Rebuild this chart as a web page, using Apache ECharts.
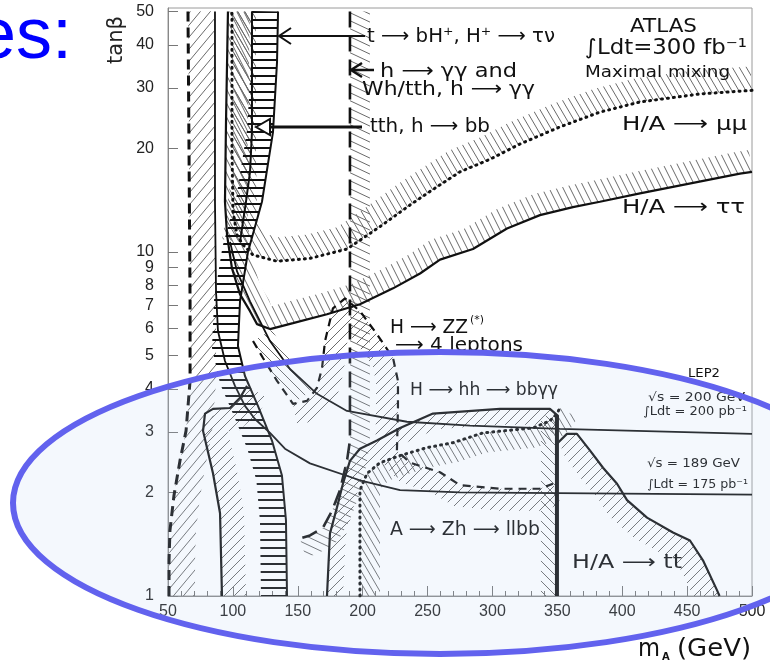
<!DOCTYPE html>
<html>
<head>
<meta charset="utf-8">
<script src="https://cdn.jsdelivr.net/npm/echarts@6/dist/echarts.min.js"></script>
<style>
  html, body { margin: 0; padding: 0; background: #fff; }
  #chart { width: 770px; height: 665px; }
</style>
</head>
<body>
<div id="chart"></div>
<script>
// ---- contour data: [m_A (GeV), tanβ] ----
const dashLeft = [[65.4,50],[66.2,19.6],[67.0,7.2],[67.0,4.22],[63.9,3.02],[59.2,2.47],[54.6,1.96],[51.5,1.55],[50.8,1.27],[50.8,1]];
const lep189 = [[500,1.97],[275,2.0],[228.8,2.03],[197.9,2.17],[159.4,2.43],[140.1,2.68],[128.6,2.98],[117,3.27],[109.3,3.57],[101.6,4.08],[93.9,4.82],[88.5,5.89],[87,7.68],[86.2,14],[86.2,50]];
const lep200 = [[500,2.96],[352,3.06],[282.7,3.13],[234.1,3.21],[187.9,3.45],[164.8,3.87],[144,4.57],[128.6,5.51],[113.2,7.19],[103.2,8.78],[97.8,10.7]];
const tauTau = [[500,17.1],[490.7,16.9],[413.7,14.8],[382.8,14.0],[362,13.5],[336.6,12.8],[311.2,11.7],[285,10.2],[259.6,9.5],[244.2,8.66],[223.4,7.84],[197.9,7.05],[172.5,6.59],[146.3,6.21],[128.6,5.97],[118.6,6.17],[113.2,6.73],[105.5,7.53],[99.3,8.96],[95.5,11.2],[93.9,14],[94.7,23.9],[96.2,50]];
const muMu = [[500,29.5],[460,28.8],[413.7,27.3],[382.8,25.5],[352,23.1],[321.2,20.6],[298.1,18.6],[275,17.1],[251.9,15.0],[236.5,13.7],[213.3,11.85],[187.9,10.2],[159.4,9.58],[134,9.4],[115.5,9.8],[107.8,10.5],[103.2,11.2],[100.1,13.1],[99.3,19.6],[99.3,50]];
const tbH = [[134.8,50],[134,35.6],[130.9,22.3],[122.4,14],[111.6,10],[105.5,7.19],[103.9,5.33],[109.3,4.36],[119.3,3.57],[130.1,2.83],[137.8,2.24],[140.9,1.66],[141.7,1]];
const tthBB = [[114.7,50],[114.7,22.3],[113.2,17.1],[110.1,14.0],[105.5,10.7]];
const hGamGam = [[190.2,50],[190.2,2.83],[187.9,2.47],[182.5,2.03],[176.4,1.77],[169.4,1.58],[159.4,1.50],[151.7,1.47]];
const lowBump = [[110.9,4.08],[105.5,3.77],[97.8,3.52],[84.7,3.50],[78.5,3.39],[77,3.02],[80,2.70],[84.7,2.27],[90.1,1.74],[91.6,1]];
const hZZ = [[115.5,5.51],[123.2,4.92],[134,4.22],[146.3,3.62],[157.1,3.69],[164.8,4.03],[168.7,4.6],[171,5.51],[177.1,6.86],[186.4,7.33],[197.9,6.73],[211,5.77],[223.4,4.92],[227.2,4.22],[227.2,3.52],[226.4,2.65],[236.5,2.44],[259.6,2.29],[275,2.10],[305.8,2.05],[336.6,2.05],[346.6,2.12]];
const aZh = [[172.5,1],[174.8,1.52],[180.2,1.81],[184.8,2.12],[190.2,2.47],[197.9,2.68],[211,2.83],[228.8,3.08],[254.2,3.39],[305.8,3.5],[344.3,3.5],[350.5,3.34],[349,3.06]];
const hhBB = [[197.9,1],[197.9,2.03],[203.3,2.27],[213.3,2.44],[228.8,2.56],[249.6,2.70],[269.6,2.79],[292.7,2.98],[331.2,3.08],[344.3,3.23],[349.7,3.39],[352,3.52]];
const ttEdge = [[349.7,3.34],[349.7,1]];
const ttCurve = [[349.7,2.77],[357.4,2.96],[365.1,2.96],[375.1,2.65],[385.2,2.36],[396,2.12],[403.7,1.9],[419.1,1.69],[439.1,1.53],[452.2,1.45],[462.2,1.27],[473,1.04],[475,1]];

// ---- axes ----
const xMin = 50, xMax = 500, xStep = 50;
const yTickValues = [1,2,3,4,5,6,7,8,9,10,20,30,40,50];
const yTop = 51.2;

// ---- hatch patterns ----
function makeHatch(deg, s, color, lw) {
  const c = document.createElement('canvas');
  const ctx = c.getContext('2d');
  const r = deg * Math.PI / 180;
  ctx.lineCap = 'butt';
  if (Math.abs(Math.sin(r)) < 1e-6) {
    c.width = 8; c.height = s;
    ctx.strokeStyle = color; ctx.lineWidth = lw;
    ctx.beginPath(); ctx.moveTo(0, s / 2); ctx.lineTo(8, s / 2); ctx.stroke();
    return c;
  }
  const W = Math.max(2, Math.round(s / Math.abs(Math.sin(r))));
  const H = Math.max(2, Math.round(s / Math.abs(Math.cos(r))));
  c.width = W; c.height = H;
  ctx.strokeStyle = color; ctx.lineWidth = lw;
  ctx.beginPath();
  const fwd = Math.tan(r) > 0;
  for (let k = -1; k <= 1; k++) {
    if (fwd) { ctx.moveTo(k * W - W, 2 * H); ctx.lineTo(k * W + 2 * W, -H); }
    else { ctx.moveTo(k * W - W, -H); ctx.lineTo(k * W + 2 * W, 2 * H); }
  }
  ctx.stroke();
  return c;
}
const HATCH = {
  fwd50: makeHatch(50, 8, '#6a6a6a', 1),
  fwd45: makeHatch(45, 7, '#6a6a6a', 1),
  back115: makeHatch(115, 6, '#6a6a6a', 1),
  back120: makeHatch(120, 6, '#6a6a6a', 1),
  back135: makeHatch(135, 7, '#6a6a6a', 1),
  back155: makeHatch(155, 7, '#6a6a6a', 1),
  bars: makeHatch(0, 8, '#111', 2)
};

// offset a pixel polyline sideways by d (positive = left of travel in screen space)
function offsetPath(pts, d) {
  const out = [];
  for (let i = 0; i < pts.length; i++) {
    const a = pts[Math.max(i - 1, 0)], b = pts[Math.min(i + 1, pts.length - 1)];
    let tx = b[0] - a[0], ty = b[1] - a[1];
    const l = Math.hypot(tx, ty) || 1; tx /= l; ty /= l;
    out.push([pts[i][0] - ty * d, pts[i][1] + tx * d]);
  }
  return out;
}

// contour drawing styles and hatch bands
const contours = [
  { pts: dashLeft, line: { width: 3, type: [10, 6] }, bands: [{ side: -1, w: 26, hatch: 'fwd50' }] },
  { pts: lowBump, line: { width: 2.2, type: 'solid' }, bands: [{ side: -1, w: 24, hatch: 'fwd45' }] },
  { pts: tthBB, line: { width: 2, type: 'solid' }, bands: [{ side: 1, w: 18, hatch: 'back120' }] },
  { pts: muMu, line: { width: 3, type: [1, 5], cap: 'round' }, bands: [{ side: 1, w: 24, hatch: 'back120' }] },
  { pts: tauTau, line: { width: 2.2, type: 'solid' }, bands: [{ side: 1, w: 22, hatch: 'back115' }] },
  { pts: hGamGam, line: { width: 2.6, type: [16, 8] }, bands: [{ side: -1, w: 20, hatch: 'back155' }] },
  { pts: hZZ, line: { width: 2.2, type: [8, 6] }, bands: [{ side: -1, w: 22, hatch: 'back135', from: 0, to: 4 }, { side: 1, w: 22, hatch: 'fwd45', from: 3 }] },
  { pts: aZh, line: { width: 2.2, type: 'solid' }, bands: [{ side: 1, w: 16, hatch: 'fwd45' }] },
  { pts: hhBB, line: { width: 3, type: [1, 5], cap: 'round' }, bands: [{ side: 1, w: 20, hatch: 'back120' }] },
  { pts: ttEdge, line: { width: 4, type: 'solid' }, bands: [{ side: 1, w: 16, hatch: 'back135' }] },
  { pts: ttCurve, line: { width: 2.2, type: 'solid' }, bands: [{ side: 1, w: 24, hatch: 'fwd45' }] },
  { pts: tbH, line: { width: 2, type: 'solid' }, bands: [{ side: 1, w: 26, hatch: 'bars' }] },
  { pts: lep200, line: { width: 1.8, type: 'solid' }, bands: [] },
  { pts: lep189, line: { width: 1.8, type: 'solid' }, bands: [] }
];

const toXY = p => [p[0], Math.log10(p[1])];

function bandSeries(pts, band) {
  const sub = pts.slice(band.from || 0, band.to === undefined ? pts.length : band.to);
  return {
    type: 'custom',
    coordinateSystem: 'cartesian2d',
    silent: true,
    z: 1,
    data: [toXY(sub[0])],
    encode: { x: 0, y: 1 },
    renderItem(params, api) {
      const px = sub.map(p => api.coord(toXY(p)));
      const off = offsetPath(px, band.side * band.w).reverse();
      const cs = params.coordSys;
      return {
        type: 'polygon',
        shape: { points: px.concat(off) },
        style: { fill: { image: HATCH[band.hatch], repeat: 'repeat' }, stroke: null },
        clipPath: { type: 'rect', shape: { x: cs.x, y: cs.y, width: cs.width, height: cs.height } }
      };
    }
  };
}

const series = [];
contours.forEach(c => c.bands.forEach(b => series.push(bandSeries(c.pts, b))));
contours.forEach(c => series.push({
  type: 'line',
  data: c.pts.map(toXY),
  symbol: 'none',
  silent: true,
  z: 3,
  lineStyle: { color: '#111', width: c.line.width, type: c.line.type, cap: c.line.cap || 'butt' }
}));

// ---- annotation text ----
const FONT = 'DejaVu Sans';
const labels = [
  { t: 't ⟶ bH⁺, H⁺ ⟶ τν', x: 367, y: 37, w: 188, s: 20 },
  { t: 'h ⟶ γγ and', x: 380, y: 72, w: 137, s: 20 },
  { t: 'Wh/tth, h ⟶ γγ', x: 362, y: 90, w: 173, s: 20 },
  { t: 'tth, h ⟶ bb', x: 370, y: 127, w: 120, s: 20 },
  { t: 'ATLAS', x: 630, y: 27, w: 67, s: 20 },
  { t: '∫Ldt=300 fb⁻¹', x: 585, y: 49, w: 162, s: 21 },
  { t: 'Maximal mixing', x: 585, y: 73, w: 145, s: 15 },
  { t: 'H/A ⟶ μμ', x: 622, y: 125, w: 125, s: 20 },
  { t: 'H/A ⟶ ττ', x: 622, y: 208, w: 123, s: 20 },
  { t: 'H ⟶ ZZ', x: 390, y: 328, w: 78, s: 20 },
  { t: '(*)', x: 470, y: 320, w: 14, s: 11 },
  { t: '⟶ 4 leptons', x: 395, y: 346, w: 128, s: 20 },
  { t: 'H ⟶ hh ⟶ bbγγ', x: 410, y: 391, w: 148, s: 17 },
  { t: 'LEP2', x: 688, y: 374, w: 32, s: 12 },
  { t: '√s = 200 GeV', x: 648, y: 398, w: 97, s: 12 },
  { t: '∫Ldt = 200 pb⁻¹', x: 643, y: 412, w: 104, s: 12 },
  { t: '√s = 189 GeV', x: 647, y: 464, w: 93, s: 12 },
  { t: '∫Ldt = 175 pb⁻¹', x: 647, y: 485, w: 101, s: 12 },
  { t: 'A ⟶ Zh ⟶ llbb', x: 390, y: 530, w: 150, s: 19 },
  { t: 'H/A ⟶ tt', x: 572, y: 563, w: 110, s: 19 },
  { t: 'm', x: 638, y: 650, w: 22, s: 24 },
  { t: '(GeV)', x: 677, y: 650, w: 74, s: 24 }
];
const mctx = document.createElement('canvas').getContext('2d');
function textEl(l) {
  const font = l.s + 'px "' + FONT + '"';
  mctx.font = font;
  const sx = l.w / mctx.measureText(l.t).width;
  return {
    type: 'text', x: l.x, y: l.y, scaleX: sx, silent: true, z: 50,
    style: { text: l.t, font: font, fill: '#111', textAlign: 'left', textVerticalAlign: 'middle', align: 'left', verticalAlign: 'middle' }
  };
}

const arrowStyle = { stroke: '#111', lineWidth: 2, fill: null };
const graphics = labels.map(textEl).concat([
  { type: 'text', x: 662, y: 657, silent: true, z: 50, style: { text: 'A', font: 'bold 10px "' + FONT + '"', fill: '#111', align: 'left', verticalAlign: 'middle', textAlign: 'left', textVerticalAlign: 'middle' } },
  { type: 'text', x: 117, y: 40, rotation: Math.PI / 2, silent: true, z: 50, style: { text: 'tanβ', font: '21px "' + FONT + '"', fill: '#222', align: 'center', verticalAlign: 'middle', textAlign: 'center', textVerticalAlign: 'middle' } },
  // pointer arrows
  { type: 'polyline', silent: true, z: 50, shape: { points: [[365, 36], [280, 36]] }, style: arrowStyle },
  { type: 'polyline', silent: true, z: 50, shape: { points: [[291, 28], [279, 36], [291, 44]] }, style: arrowStyle },
  { type: 'polyline', silent: true, z: 50, shape: { points: [[374, 70], [352, 70]] }, style: { stroke: '#111', lineWidth: 2.5, fill: null } },
  { type: 'polyline', silent: true, z: 50, shape: { points: [[362, 63], [351, 70], [362, 77]] }, style: { stroke: '#111', lineWidth: 2.5, fill: null } },
  { type: 'polyline', silent: true, z: 50, shape: { points: [[362, 127], [270, 127]] }, style: { stroke: '#111', lineWidth: 3, fill: null } },
  { type: 'polygon', silent: true, z: 50, shape: { points: [[256, 127], [270, 119], [270, 135]] }, style: { stroke: '#111', lineWidth: 2, fill: '#fff' } },
  // slide overlay
  { type: 'text', x: -24, y: 74, silent: true, z: 60, style: { text: 'es:', font: '72px "Liberation Sans"', fill: '#0000ff', align: 'left', verticalAlign: 'bottom', textAlign: 'left', textVerticalAlign: 'bottom' } },
  { type: 'ellipse', silent: true, z: 100, shape: { cx: 440, cy: 503, rx: 427, ry: 151 }, style: { fill: 'rgba(185,212,242,0.16)', stroke: '#6262ee', lineWidth: 6 } }
]);

const chart = echarts.init(document.getElementById('chart'), null, { renderer: 'canvas' });
chart.setOption({
  animation: false,
  backgroundColor: '#fff',
  grid: { left: 168, right: 18, top: 8, bottom: 69, show: true, borderColor: '#9a9a9a', borderWidth: 1, containLabel: false },
  xAxis: {
    type: 'value', min: xMin, max: xMax, interval: xStep,
    axisLine: { show: true, lineStyle: { color: '#888', width: 1 } },
    axisTick: { show: true, inside: true, length: 10, lineStyle: { color: '#777' } },
    minorTick: { show: true, splitNumber: 5, length: 5, lineStyle: { color: '#777' } },
    splitLine: { show: false },
    axisLabel: { color: '#222', fontSize: 16, fontFamily: 'Liberation Sans', margin: 8 }
  },
  yAxis: {
    type: 'value', min: 0, max: Math.log10(yTop),
    axisLine: { show: true, lineStyle: { color: '#888', width: 1 } },
    axisTick: { show: true, inside: true, length: 10, lineStyle: { color: '#777' }, customValues: yTickValues.map(v => Math.log10(v)) },
    splitLine: { show: false },
    axisLabel: {
      color: '#222', fontSize: 16, fontFamily: 'Liberation Sans', margin: 14,
      customValues: yTickValues.map(v => Math.log10(v)),
      formatter: v => String(Math.round(Math.pow(10, v)))
    }
  },
  series: series,
  graphic: { elements: graphics }
});
</script>
</body>
</html>
